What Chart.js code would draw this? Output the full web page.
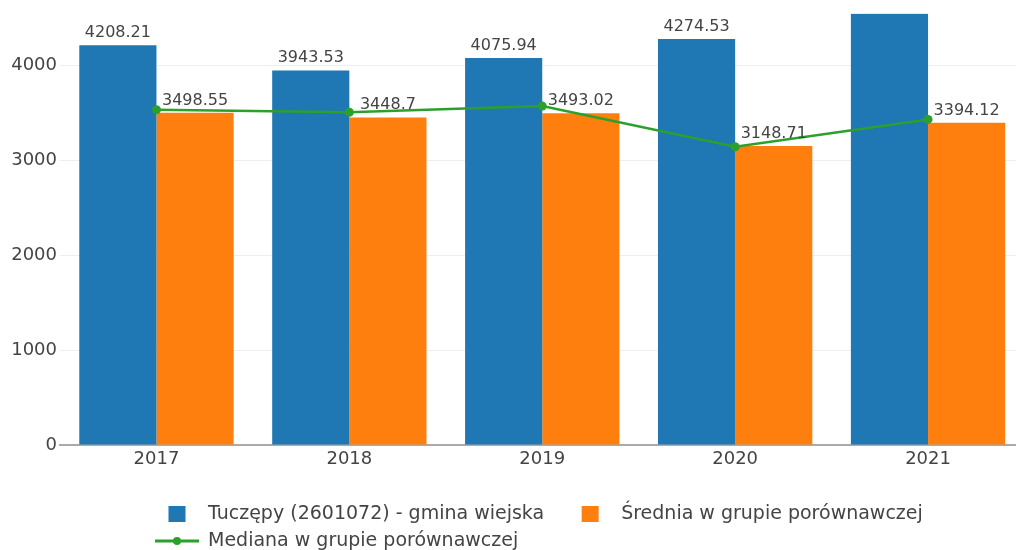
<!DOCTYPE html>
<html lang="pl">
<head>
<meta charset="utf-8">
<title>Tuczępy</title>
<script src="https://cdn.jsdelivr.net/npm/chart.js@4"></script>
<style>
    html, body { margin: 0; padding: 0; background: #fff; overflow: hidden; }
    #wrap { position: relative; width: 1029px; height: 550px; }
</style>
</head>
<body>
<div id="wrap"><canvas id="myChart"></canvas></div>
<script>
const years = ['2017', '2018', '2019', '2020', '2021'];
const gminaValues = [4208.21, 3943.53, 4075.94, 4274.53, 4544];
const sredniaValues = [3498.55, 3448.7, 3493.02, 3148.71, 3394.12];
const medianaValues = [3530, 3503, 3568, 3140, 3428];
const yTicks = [0, 1000, 2000, 3000, 4000];
const yMax = 4540;

const FONT = '"DejaVu Sans", Verdana, sans-serif';
const TEXT = '#444';

// Numbers above the bars, clipped to the plot area
const valueLabels = {
    id: 'valueLabels',
    afterDatasetsDraw(chart) {
        const { ctx, chartArea } = chart;
        ctx.save();
        ctx.beginPath();
        ctx.rect(chartArea.left, chartArea.top, chartArea.width, chartArea.height);
        ctx.clip();
        ctx.font = '16px ' + FONT;
        ctx.fillStyle = TEXT;
        ctx.textAlign = 'center';
        ctx.textBaseline = 'alphabetic';
        chart.data.datasets.forEach((ds, i) => {
            if (ds.type !== 'bar') return;
            chart.getDatasetMeta(i).data.forEach((bar, j) => {
                ctx.fillText(String(ds.data[j]), bar.x, bar.y - 8);
            });
        });
        ctx.restore();
    }
};

// Legend under the axis, two rows
const bottomLegend = {
    id: 'bottomLegend',
    afterDraw(chart) {
        const ctx = chart.ctx;
        const rows = [[0, 1], [2]];
        const rowY = [514, 541];
        const startX = 151;
        ctx.save();
        ctx.font = '19px ' + FONT;
        ctx.textBaseline = 'middle';
        rows.forEach((row, r) => {
            let x = startX;
            const y = rowY[r];
            row.forEach(i => {
                const ds = chart.data.datasets[i];
                const cx = x + 26;
                if (ds.type === 'bar') {
                    ctx.fillStyle = ds.backgroundColor;
                    ctx.fillRect(cx - 8.5, y - 8, 17, 16);
                } else {
                    ctx.strokeStyle = ds.borderColor;
                    ctx.lineWidth = 3;
                    ctx.beginPath();
                    ctx.moveTo(cx - 22, y);
                    ctx.lineTo(cx + 22, y);
                    ctx.stroke();
                    ctx.fillStyle = ds.borderColor;
                    ctx.beginPath();
                    ctx.arc(cx, y, 4, 0, Math.PI * 2);
                    ctx.fill();
                }
                ctx.fillStyle = TEXT;
                ctx.textAlign = 'left';
                const tx = x + 57;
                ctx.fillText(ds.label, tx, y);
                x = tx + ctx.measureText(ds.label).width + 20;
            });
        });
        ctx.restore();
    }
};

const ctx = document.getElementById('myChart').getContext('2d');
const myChart = new Chart(ctx, {
    data: {
        labels: years,
        datasets: [
            {
                type: 'bar',
                label: 'Tuczępy (2601072) - gmina wiejska',
                data: gminaValues,
                backgroundColor: '#1f77b4',
                categoryPercentage: 0.8,
                barPercentage: 1.0,
                order: 1
            },
            {
                type: 'bar',
                label: 'Średnia w grupie porównawczej',
                data: sredniaValues,
                backgroundColor: '#ff7f0e',
                categoryPercentage: 0.8,
                barPercentage: 1.0,
                order: 1
            },
            {
                type: 'line',
                label: 'Mediana w grupie porównawczej',
                data: medianaValues,
                borderColor: '#2ca02c',
                backgroundColor: '#2ca02c',
                borderWidth: 2.5,
                pointRadius: 4.5,
                pointBackgroundColor: '#2ca02c',
                pointBorderWidth: 0,
                tension: 0,
                fill: false,
                order: 0
            }
        ]
    },
    options: {
        responsive: true,
        maintainAspectRatio: false,
        animation: false,
        layout: { padding: { top: 0, left: 0, right: 0, bottom: 0 } },
        plugins: { legend: { display: false }, tooltip: { enabled: false } },
        scales: {
            x: {
                afterFit(scale) { scale.height = 105; },
                grid: { display: false, drawTicks: false },
                border: { display: true, color: '#aaa', width: 2 },
                ticks: { padding: 4, color: TEXT, font: { family: FONT, size: 18 } }
            },
            y: {
                min: 0,
                max: yMax,
                afterFit(scale) { scale.width = 60; },
                afterBuildTicks(scale) { scale.ticks = yTicks.map(v => ({ value: v })); },
                grid: { color: '#eee', drawTicks: false },
                border: { display: false },
                ticks: {
                    padding: 3,
                    color: TEXT,
                    font: { family: FONT, size: 18 },
                    callback: v => String(v)
                }
            }
        }
    },
    plugins: [valueLabels, bottomLegend]
});
</script>
</body>
</html>
